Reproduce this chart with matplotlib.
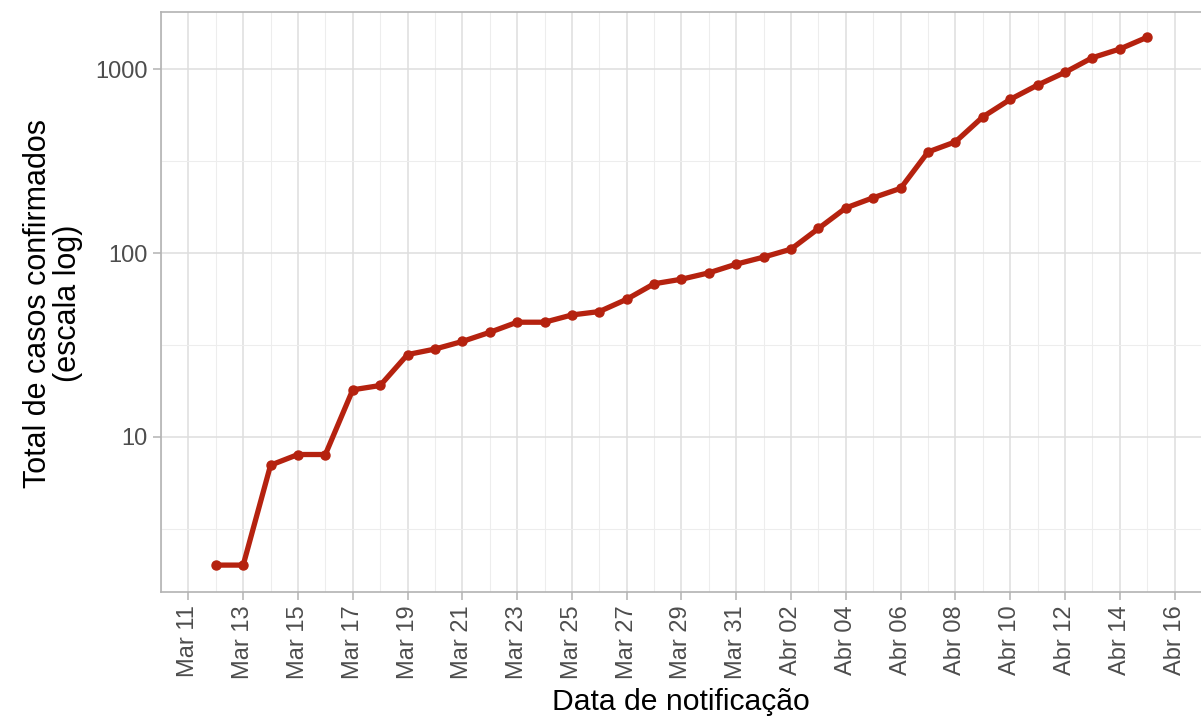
import matplotlib
matplotlib.use("Agg")
import matplotlib.pyplot as plt
import matplotlib.dates as mdates
from matplotlib.ticker import FixedLocator, FixedFormatter
import numpy as np
import datetime as dt

plt.rcParams['font.family'] = ['Liberation Sans', 'DejaVu Sans']

# ---- data ----
start_date = "2020-03-12"
casos = [2, 2, 7, 8, 8, 18, 19, 28, 30, 33, 37, 42, 42, 46, 48, 56, 68, 72,
         78, 87, 95, 105, 136, 176, 200, 225, 355, 403, 551, 686, 821, 963,
         1157, 1290, 1495]
meses_pt = {3: "Mar", 4: "Abr"}
y_ticks = [10, 100, 1000]
y_ticklabels = ["10", "100", "1000"]

d0 = dt.date.fromisoformat(start_date)
datas = [d0 + dt.timedelta(days=i) for i in range(len(casos))]

W, H = 1201, 718
fig = plt.figure(figsize=(W / 100, H / 100), dpi=100)
left, right, top, bottom = 161, 1202, 12, 592
pw, ph = right - left, bottom - top
ax = fig.add_axes([left / W, 1 - bottom / H, pw / W, ph / H])

line_color = "#B5220F"
ax.plot(datas, casos, color=line_color, lw=3.8, marker="o", ms=6.5,
        solid_capstyle="round", solid_joinstyle="round", zorder=3)

ax.set_yscale("log")
ax.set_ylim(10 ** 0.1546, 10 ** 3.312)
ax.yaxis.set_major_locator(FixedLocator(y_ticks))
ax.yaxis.set_major_formatter(FixedFormatter(y_ticklabels))
ax.yaxis.set_minor_locator(FixedLocator([10 ** 0.5, 10 ** 1.5, 10 ** 2.5, 10 ** 3.5]))
ax.yaxis.set_minor_formatter(FixedFormatter([]))

tick_dates = [dt.date(2020, 3, 11) + dt.timedelta(days=2 * i) for i in range(19)]
minor_dates = [dt.date(2020, 3, 10) + dt.timedelta(days=i) for i in range(39)]
x0 = mdates.date2num(dt.date(2020, 3, 11))
x1 = mdates.date2num(dt.date(2020, 4, 16))
ax.set_xlim(x0 - 0.72, x1 + 0.68)
ax.set_xticks([mdates.date2num(d) for d in tick_dates])
ax.set_xticklabels([f"{meses_pt[d.month]} {d.day:02d}" for d in tick_dates],
                   rotation=90, va="top", ha="center")
ax.set_xticks([mdates.date2num(d) for d in minor_dates], minor=True)

ax.grid(which="major", color="#DEDEDE", lw=1.1)
ax.grid(which="minor", color="#EDEDED", lw=0.8)
ax.set_axisbelow(True)

for s in ax.spines.values():
    s.set_color("#B3B3B3")
    s.set_linewidth(1.2)

ax.tick_params(which="major", length=5.5, width=1.1, color="#B3B3B3",
               labelsize=17, labelcolor="#4D4D4D", pad=4)
ax.tick_params(which="minor", length=0)

ax.set_xlabel("Data de notificação", fontsize=21.7, color="black")
ax.xaxis.set_label_coords((681 - left) / pw, (bottom - 710) / ph)
ax.xaxis.label.set_va("baseline")
ax.set_ylabel("Total de casos confirmados\n(escala log)", fontsize=22,
              color="black", linespacing=1.0)
ax.yaxis.set_label_coords((53 - left) / pw, (bottom - 303) / ph)
ax.yaxis.label.set_va("center")

fig.savefig("out.png", dpi=100)
